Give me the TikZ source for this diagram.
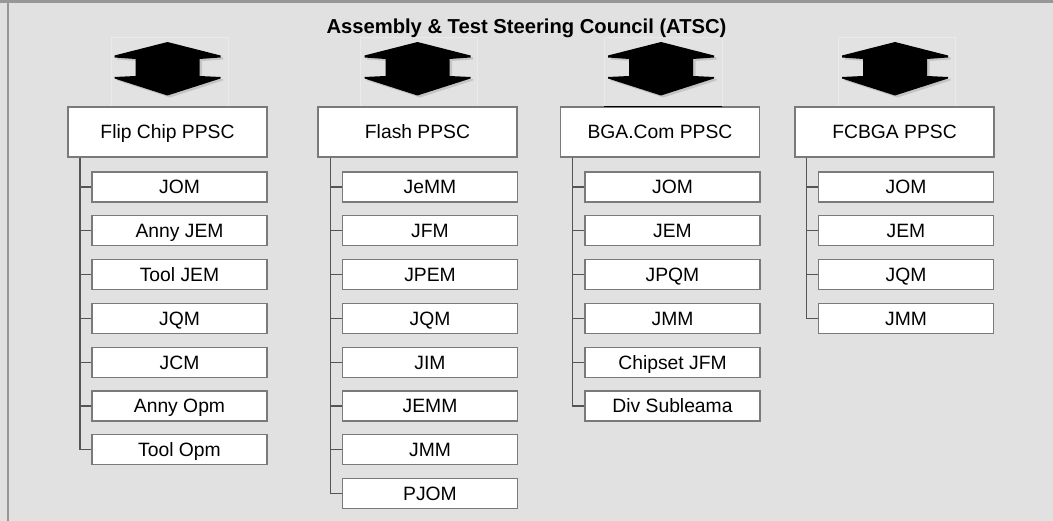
\documentclass[tikz,border=0pt]{standalone}
\usepackage{fontspec}
\setmainfont{Liberation Sans}
\usepackage{tikz}
\usetikzlibrary{shadows}

\definecolor{panelgray}{HTML}{E0E1E0}
\definecolor{framegray}{HTML}{979797}
\definecolor{boxgray}{HTML}{7A7A7A}
\definecolor{linegray}{HTML}{555555}

\tikzset{
  council/.style={font=\bfseries\fontsize{20.2}{22}\selectfont},
  ppsc/.style={draw=boxgray, line width=1.1pt, fill=white, minimum width=199pt,
    minimum height=50pt, inner sep=0pt, text height=13.6pt, text depth=0pt,
    font=\fontsize{19.3}{21}\selectfont},
  member/.style={draw=boxgray, line width=1.1pt, fill=white, minimum width=175pt,
    minimum height=30pt, inner sep=0pt, text height=13.8pt, text depth=0pt,
    font=\fontsize{19.3}{21}\selectfont},
  branch/.style={draw=linegray, line width=1.2pt},
  bigarrow/.style={fill=black, drop shadow={opacity=0.3, shadow xshift=2.5pt, shadow yshift=-2pt}},
  arrowbg/.style={fill=white, fill opacity=0.05, draw=white, draw opacity=0.3, line width=0.5pt}
}

\begin{document}
\begin{tikzpicture}[x=1pt,y=-1pt]
  % panel and frame
  \fill[panelgray] (0,0) rectangle (1053,521);
  \useasboundingbox (0,0) rectangle (1053,521);
  \fill[framegray] (0,0) rectangle (1053,3);
  \draw[framegray, line width=1.8pt] (8,3) -- (8,521);

  \node[council, anchor=base] (atsc) at (526.5,34) {Assembly \& Test Steering Council (ATSC)};

  % faint backdrops of the arrows
  \path[arrowbg] (111,37) rectangle (228,107);
  \path[arrowbg] (360,37) rectangle (477,107);
  \path[arrowbg] (604,37) rectangle (722,107);
  \path[arrowbg] (838,37) rectangle (955,107);

  % two-way arrows
  \fill[bigarrow, shift={(167.5,68.5)}] (0,-26.5) -- (53,-13) -- (53,-11) -- (32,-9.5) -- (32,7.5)
    -- (53,8.5) -- (53,10) -- (0,27) -- (-53,10) -- (-53,8.5) -- (-32,7.5) -- (-32,-9.5)
    -- (-53,-11) -- (-53,-13) -- cycle;
  \fill[bigarrow, shift={(417.5,68.5)}] (0,-26.5) -- (53,-13) -- (53,-11) -- (32,-9.5) -- (32,7.5)
    -- (53,8.5) -- (53,10) -- (0,27) -- (-53,10) -- (-53,8.5) -- (-32,7.5) -- (-32,-9.5)
    -- (-53,-11) -- (-53,-13) -- cycle;
  \fill[bigarrow, shift={(661,68.5)}] (0,-26.5) -- (53,-13) -- (53,-11) -- (32,-9.5) -- (32,7.5)
    -- (53,8.5) -- (53,10) -- (0,27) -- (-53,10) -- (-53,8.5) -- (-32,7.5) -- (-32,-9.5)
    -- (-53,-11) -- (-53,-13) -- cycle;
  \fill[bigarrow, shift={(895,68.5)}] (0,-26.5) -- (53,-13) -- (53,-11) -- (32,-9.5) -- (32,7.5)
    -- (53,8.5) -- (53,10) -- (0,27) -- (-53,10) -- (-53,8.5) -- (-32,7.5) -- (-32,-9.5)
    -- (-53,-11) -- (-53,-13) -- cycle;

  % PPSC boxes
  \node[ppsc] (fc) at (167.5,132) {Flip Chip PPSC};
  \node[ppsc] (fl) at (417.5,132) {Flash PPSC};
  \node[ppsc] (bga) at (660,132) {BGA.Com PPSC};
  \node[ppsc] (fcbga) at (894.5,132) {FCBGA PPSC};
  \draw[black, line width=1.6pt] (604,106.5) -- (722,106.5);

  % Flip Chip members
  \node[member] (fc1) at (179.5,187) {JOM};
  \node[member] (fc2) at (179.5,230.8) {Anny JEM};
  \node[member] (fc3) at (179.5,274.6) {Tool JEM};
  \node[member] (fc4) at (179.5,318.4) {JQM};
  \node[member] (fc5) at (179.5,362.2) {JCM};
  \node[member] (fc6) at (179.5,406) {Anny Opm};
  \node[member] (fc7) at (179.5,449.8) {Tool Opm};

  % Flash members
  \node[member] (fl1) at (430,187) {JeMM};
  \node[member] (fl2) at (430,230.8) {JFM};
  \node[member] (fl3) at (430,274.6) {JPEM};
  \node[member] (fl4) at (430,318.4) {JQM};
  \node[member] (fl5) at (430,362.2) {JIM};
  \node[member] (fl6) at (430,406) {JEMM};
  \node[member] (fl7) at (430,449.8) {JMM};
  \node[member] (fl8) at (430,493.6) {PJOM};

  % BGA.Com members
  \node[member] (bga1) at (672.5,187) {JOM};
  \node[member] (bga2) at (672.5,230.8) {JEM};
  \node[member] (bga3) at (672.5,274.6) {JPQM};
  \node[member] (bga4) at (672.5,318.4) {JMM};
  \node[member] (bga5) at (672.5,362.2) {Chipset JFM};
  \node[member] (bga6) at (672.5,406) {Div Subleama};

  % FCBGA members
  \node[member] (fcbga1) at (906,187) {JOM};
  \node[member] (fcbga2) at (906,230.8) {JEM};
  \node[member] (fcbga3) at (906,274.6) {JQM};
  \node[member] (fcbga4) at (906,318.4) {JMM};

  % tree lines
  \draw[branch] ([xshift=12.5pt]fc.south west) |- (fc1.west);
  \draw[branch] ([xshift=12.5pt]fc.south west) |- (fc2.west);
  \draw[branch] ([xshift=12.5pt]fc.south west) |- (fc3.west);
  \draw[branch] ([xshift=12.5pt]fc.south west) |- (fc4.west);
  \draw[branch] ([xshift=12.5pt]fc.south west) |- (fc5.west);
  \draw[branch] ([xshift=12.5pt]fc.south west) |- (fc6.west);
  \draw[branch] ([xshift=12.5pt]fc.south west) |- (fc7.west);

  \draw[branch] ([xshift=13pt]fl.south west) |- (fl1.west);
  \draw[branch] ([xshift=13pt]fl.south west) |- (fl2.west);
  \draw[branch] ([xshift=13pt]fl.south west) |- (fl3.west);
  \draw[branch] ([xshift=13pt]fl.south west) |- (fl4.west);
  \draw[branch] ([xshift=13pt]fl.south west) |- (fl5.west);
  \draw[branch] ([xshift=13pt]fl.south west) |- (fl6.west);
  \draw[branch] ([xshift=13pt]fl.south west) |- (fl7.west);
  \draw[branch] ([xshift=13pt]fl.south west) |- (fl8.west);

  \draw[branch] ([xshift=12.5pt]bga.south west) |- (bga1.west);
  \draw[branch] ([xshift=12.5pt]bga.south west) |- (bga2.west);
  \draw[branch] ([xshift=12.5pt]bga.south west) |- (bga3.west);
  \draw[branch] ([xshift=12.5pt]bga.south west) |- (bga4.west);
  \draw[branch] ([xshift=12.5pt]bga.south west) |- (bga5.west);
  \draw[branch] ([xshift=12.5pt]bga.south west) |- (bga6.west);

  \draw[branch] ([xshift=12pt]fcbga.south west) |- (fcbga1.west);
  \draw[branch] ([xshift=12pt]fcbga.south west) |- (fcbga2.west);
  \draw[branch] ([xshift=12pt]fcbga.south west) |- (fcbga3.west);
  \draw[branch] ([xshift=12pt]fcbga.south west) |- (fcbga4.west);
\end{tikzpicture}
\end{document}
